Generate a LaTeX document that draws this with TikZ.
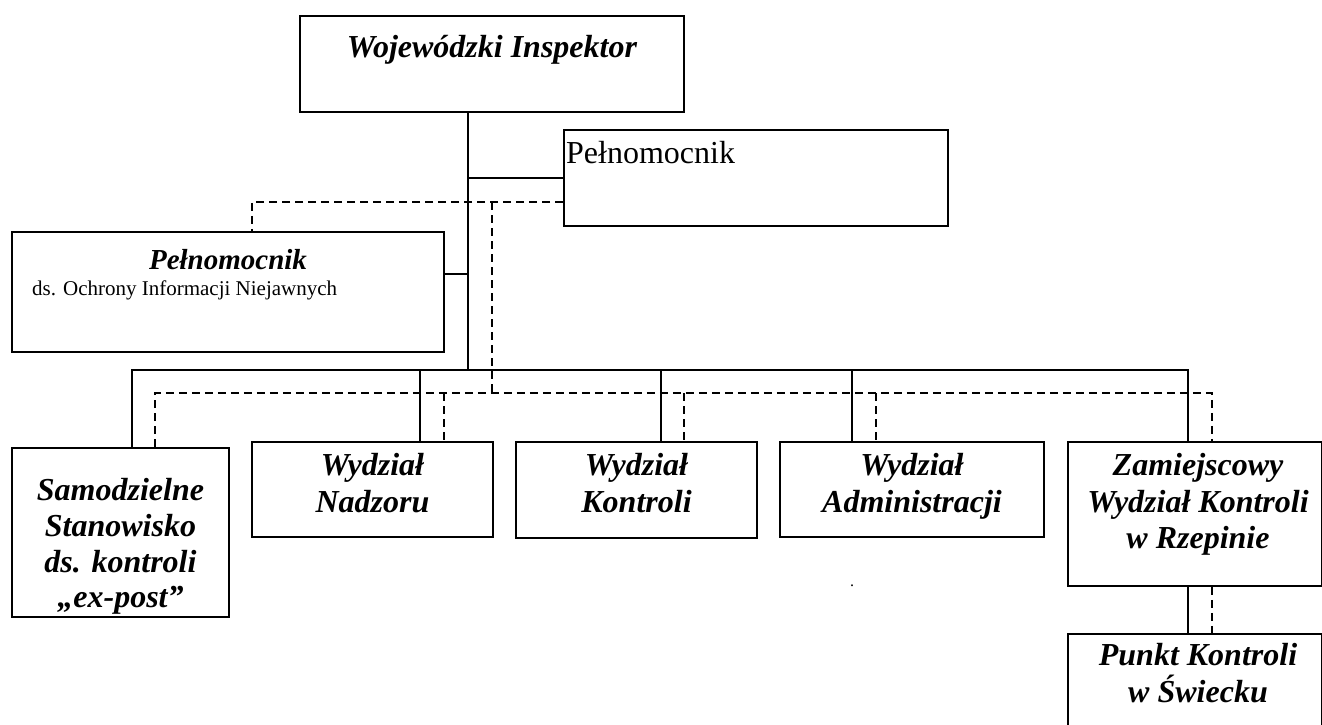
\documentclass[tikz,border=0pt]{standalone}
\usepackage{fontspec}
\setmainfont{Liberation Serif}
\begin{document}
\begin{tikzpicture}[x=1pt,y=-1pt,
  box/.style={draw, line width=1.8pt, rectangle, inner sep=0pt},
  lbl/.style={font=\fontsize{32}{37}\selectfont\bfseries\itshape, anchor=base, inner sep=0pt},
  plain/.style={anchor=base west, inner sep=0pt},
  conn/.style={line width=1.4pt},
  dconn/.style={line width=1.4pt, dash pattern=on 8pt off 5pt},
]
\useasboundingbox (0,0) rectangle (1322,724);
\clip (0,0) rectangle (1322,724);

% boxes
\node[box, minimum width=384pt, minimum height=96pt] (woj) at (492,64) {};
\node[box, minimum width=384pt, minimum height=96pt] (pelR) at (756,178) {};
\node[box, minimum width=432pt, minimum height=120pt] (odi) at (228,292) {};
\node[box, minimum width=217pt, minimum height=169pt] (samo) at (120.5,532.5) {};
\node[box, minimum width=241pt, minimum height=95pt] (nad) at (372.5,489.5) {};
\node[box, minimum width=241pt, minimum height=96pt] (kon) at (636.5,490) {};
\node[box, minimum width=264pt, minimum height=95pt] (adm) at (912,489.5) {};
\node[box, minimum width=254pt, minimum height=144pt] (zam) at (1195,514) {};
\node[box, minimum width=254pt, minimum height=126pt] (pkt) at (1195,697) {};

% texts
\node[lbl] (tWoj) at (492,57) {Wojewódzki Inspektor};
\node[plain, font=\fontsize{32}{37}\selectfont] (tPelR) at (566,163) {Pełnomocnik};
\node[lbl, font=\fontsize{29}{34}\selectfont\bfseries\itshape] (tOdi1) at (228,269) {Pełnomocnik};
\node[plain, font=\fontsize{21}{25}\selectfont] (tOdi2) at (32,295) {ds. Ochrony Informacji Niejawnych};
\node[lbl] (tS1) at (120.5,500) {Samodzielne};
\node[lbl] (tS2) at (120.5,536) {Stanowisko};
\node[lbl] (tS3) at (120.5,572) {ds. kontroli};
\node[lbl] (tS4) at (120.5,607) {„ex-post”};
\node[lbl] (tN1) at (372.5,475) {Wydział};
\node[lbl] (tN2) at (372.5,512) {Nadzoru};
\node[lbl] (tK1) at (636.5,475) {Wydział};
\node[lbl] (tK2) at (636.5,512) {Kontroli};
\node[lbl] (tA1) at (912,475) {Wydział};
\node[lbl] (tA2) at (912,512) {Administracji};
\node[lbl] (tZ1) at (1198,475) {Zamiejscowy};
\node[lbl] (tZ2) at (1198,512) {Wydział Kontroli};
\node[lbl] (tZ3) at (1198,548) {w Rzepinie};
\node[lbl] (tP1) at (1198,665) {Punkt Kontroli};
\node[lbl] (tP2) at (1198,702) {w Świecku};
\node[inner sep=0pt, font=\fontsize{16}{16}\selectfont] (dot) at (852,586) {.};

% solid connectors
\coordinate (trunk) at (468,370);
\coordinate (jodi) at (468,274);
\coordinate (busL) at (132,370);
\coordinate (busR) at (1188,370);
\coordinate (dn) at (420,370);
\coordinate (dk) at (661,370);
\coordinate (da) at (852,370);
\draw[conn] (trunk |- woj.south) -- (trunk);
\draw[conn] (pelR.west) -- (pelR.west -| trunk);
\draw[conn] (jodi -| odi.east) -- (jodi);
\draw[conn] (busL |- samo.north) -- (busL) -- (busR) -- (busR |- zam.north);
\draw[conn] (dn) -- (dn |- nad.north);
\draw[conn] (dk) -- (dk |- kon.north);
\draw[conn] (da) -- (da |- adm.north);
\draw[conn] (busR |- zam.south) -- (busR |- pkt.north);

% dashed connectors
\coordinate (dtop) at (252,202);
\coordinate (dv) at (492,202);
\coordinate (dvb) at (492,393);
\coordinate (dbL) at (155,393);
\coordinate (dbR) at (1212,393);
\coordinate (ddn) at (444,393);
\coordinate (ddk) at (684,393);
\coordinate (dda) at (876,393);
\draw[dconn] (dtop -| pelR.west) -- (dtop) -- (dtop |- odi.north);
\draw[dconn] (dv) -- (dvb);
\draw[dconn] (dbL |- samo.north) -- (dbL) -- (dbR) -- (dbR |- zam.north);
\draw[dconn] (ddn) -- (ddn |- nad.north);
\draw[dconn] (ddk) -- (ddk |- kon.north);
\draw[dconn] (dda) -- (dda |- adm.north);
\draw[dconn] (dbR |- zam.south) -- (dbR |- pkt.north);
\end{tikzpicture}
\end{document}
